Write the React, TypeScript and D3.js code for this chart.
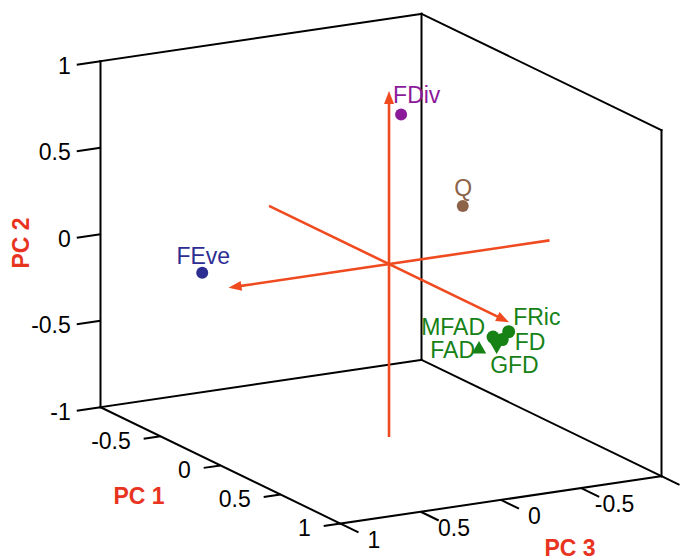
import React from "react";
import * as d3 from "d3";

// PCA loadings of the functional diversity indices
const variables = ["FDiv", "Q", "FEve", "FRic", "FD", "GFD", "MFAD", "FAD"];
const pc1 = [-0.1, 0.2, -0.5, 0.85, 0.85, 0.83, 0.8, 0.75];
const pc2 = [0.83, 0.38, -0.09, -0.1, -0.14, -0.18, -0.14, -0.22];
const pc3 = [-0.2, -0.36, 0.74, -0.16, -0.12, -0.1, -0.1, -0.05];

// Tick values on the three axes
const pc1Ticks = [-0.5, 0, 0.5, 1];
const pc2Ticks = [-1, -0.5, 0, 0.5, 1];
const pc3Ticks = [-1, -0.5, 0, 0.5, 1];

// Reference axes drawn through the biplot centre (PC1, PC2, PC3)
const axisCentre = [0, 0.02, -0.05];

const W = 680;
const H = 560;
const FONT = "'Liberation Sans', Arial, Helvetica, sans-serif";
const AXIS_RED = "#e8341f";
const ARROW = "#f04a20";
const GREEN = "#168216";

type Style = {
  color: string;
  marker: "circle" | "up" | "down";
  anchor: "start" | "middle" | "end";
  dx: number;
  dy: number;
};

const styles: Record<string, Style> = {
  FDiv: { color: "#8b1a9b", marker: "circle", anchor: "start", dx: -8, dy: -19.5 },
  Q: { color: "#8c6348", marker: "circle", anchor: "middle", dx: 0.5, dy: -18 },
  FEve: { color: "#2e2e92", marker: "circle", anchor: "middle", dx: 1, dy: -16.5 },
  FRic: { color: GREEN, marker: "circle", anchor: "start", dx: 4.5, dy: -15 },
  FD: { color: GREEN, marker: "circle", anchor: "start", dx: 12.5, dy: 2 },
  GFD: { color: GREEN, marker: "down", anchor: "start", dx: -6.5, dy: 19.5 },
  MFAD: { color: GREEN, marker: "circle", anchor: "end", dx: -8, dy: -10.5 },
  FAD: { color: GREEN, marker: "up", anchor: "end", dx: -4, dy: 1 },
};

// Orthographic view: each data axis contributes a screen offset
const cx = 381;
const cy = 268.7;
const x1 = d3.scaleLinear().domain([-1, 1]).range([-120, 120]);
const y1 = d3.scaleLinear().domain([-1, 1]).range([-58.2, 58.2]);
const x3 = d3.scaleLinear().domain([-1, 1]).range([160.5, -160.5]);
const y3 = d3.scaleLinear().domain([-1, 1]).range([-23.7, 23.7]);
const y2 = d3.scaleLinear().domain([-1, 1]).range([173, -173]);

function project(a: number, b: number, c: number): [number, number] {
  return [cx + x1(a) + x3(c), cy + y1(a) + y3(c) + y2(b)];
}

function unit(v: [number, number]): [number, number] {
  const l = Math.hypot(v[0], v[1]);
  return [v[0] / l, v[1] / l];
}

// screen directions of increasing PC1 and PC3
const dir1 = unit([x1(1) - x1(0), y1(1) - y1(0)]);
const dir3 = unit([x3(1) - x3(0), y3(1) - y3(0)]);

// Box corners (PC1, PC2, PC3) and the back edges that are drawn
const boxEdges: [number[], number[]][] = [
  [[-1, -1, 1], [-1, 1, 1]],
  [[-1, -1, -1], [-1, 1, -1]],
  [[1, -1, -1], [1, 1, -1]],
  [[-1, 1, 1], [-1, 1, -1]],
  [[-1, 1, -1], [1, 1, -1]],
  [[-1, -1, 1], [-1, -1, -1]],
  [[-1, -1, -1], [1, -1, -1]],
  [[-1, -1, 1], [1, -1, 1]],
  [[1, -1, 1], [1, -1, -1]],
];

function Arrow({ from, to }: { from: [number, number]; to: [number, number] }) {
  const d = unit([to[0] - from[0], to[1] - from[1]]);
  const len = 13;
  const hw = 5;
  const bx = to[0] - d[0] * len;
  const by = to[1] - d[1] * len;
  const pts = [
    [to[0], to[1]],
    [bx - d[1] * hw, by + d[0] * hw],
    [bx + d[1] * hw, by - d[0] * hw],
  ];
  return (
    <g>
      <line x1={from[0]} y1={from[1]} x2={bx + d[0] * 2} y2={by + d[1] * 2} stroke={ARROW} strokeWidth={2.6} />
      <polygon points={pts.map((p) => p.join(",")).join(" ")} fill={ARROW} />
    </g>
  );
}

export default function App() {
  const [o1, o2, o3] = axisCentre;
  const refAxes = [
    { from: project(o1 - 1, o2, o3), to: project(o1 + 1, o2, o3) },
    { from: project(o1, o2 - 1, o3), to: project(o1, o2 + 1, o3) },
    { from: project(o1, o2, o3 - 1), to: project(o1, o2, o3 + 1) },
  ];

  const triUp = d3.symbol().type(d3.symbolTriangle).size(90)();
  const fontSize = 23;

  return (
    <svg
      width={W}
      height={H}
      style={{ position: "absolute", left: 0, top: 0, background: "#fff" }}
      fontFamily={FONT}
    >
      <rect width={W} height={H} fill="#fff" />

      {/* box */}
      {boxEdges.map(([a, b], i) => {
        const p = project(a[0], a[1], a[2]);
        const q = project(b[0], b[1], b[2]);
        return <line key={i} x1={p[0]} y1={p[1]} x2={q[0]} y2={q[1]} stroke="#000" strokeWidth={2} strokeLinecap="square" />;
      })}

      {/* PC2 ticks on the left vertical edge */}
      {pc2Ticks.map((v) => {
        const p = project(-1, v, 1);
        const t = 24;
        const l = 30;
        return (
          <g key={"y" + v}>
            <line x1={p[0]} y1={p[1]} x2={p[0] + dir3[0] * t} y2={p[1] + dir3[1] * t} stroke="#000" strokeWidth={2} />
            <text x={p[0] + dir3[0] * l} y={p[1] + dir3[1] * l} textAnchor="end" dominantBaseline="central" fontSize={fontSize} fill="#000">
              {String(v)}
            </text>
          </g>
        );
      })}

      {/* PC1 ticks along the lower left edge */}
      {pc1Ticks.map((v) => {
        const p = project(v, -1, 1);
        const t = 17;
        const l = 30;
        return (
          <g key={"x" + v}>
            <line x1={p[0]} y1={p[1]} x2={p[0] + dir3[0] * t} y2={p[1] + dir3[1] * t} stroke="#000" strokeWidth={2} />
            <text x={p[0] + dir3[0] * l} y={p[1] + dir3[1] * l} textAnchor="end" dominantBaseline="central" fontSize={fontSize} fill="#000">
              {String(v)}
            </text>
          </g>
        );
      })}

      {/* PC3 ticks along the lower right edge */}
      {pc3Ticks.map((v) => {
        const p = project(1, -1, v);
        const t = 20;
        const l = 37;
        return (
          <g key={"z" + v}>
            <line x1={p[0]} y1={p[1]} x2={p[0] + dir1[0] * t} y2={p[1] + dir1[1] * t} stroke="#000" strokeWidth={2} />
            <text x={p[0] + dir1[0] * l} y={p[1] + dir1[1] * l} textAnchor="middle" dominantBaseline="central" fontSize={fontSize} fill="#000">
              {String(v)}
            </text>
          </g>
        );
      })}

      {/* axis titles */}
      <text x={21} y={243} transform="rotate(-90 21 243)" textAnchor="middle" dominantBaseline="central" fontSize={fontSize} fontWeight="bold" fill={AXIS_RED}>
        PC 2
      </text>
      <text x={139} y={496} textAnchor="middle" dominantBaseline="central" fontSize={fontSize} fontWeight="bold" fill={AXIS_RED}>
        PC 1
      </text>
      <text x={570} y={548} textAnchor="middle" dominantBaseline="central" fontSize={fontSize} fontWeight="bold" fill={AXIS_RED}>
        PC 3
      </text>

      {/* reference axes with arrows at the positive ends */}
      {refAxes.map((a, i) => (
        <Arrow key={i} from={a.from} to={a.to} />
      ))}

      {/* loadings */}
      {variables.map((name, i) => {
        const [px, py] = project(pc1[i], pc2[i], pc3[i]);
        const s = styles[name];
        let mark;
        if (s.marker === "circle") {
          mark = <circle cx={px} cy={py} r={name === "FDiv" || name === "Q" || name === "FEve" ? 6 : 6.5} fill={s.color} />;
        } else {
          mark = (
            <path d={triUp || ""} transform={`translate(${px},${py}) rotate(${s.marker === "down" ? 180 : 0})`} fill={s.color} />
          );
        }
        return <g key={name}>{mark}</g>;
      })}
      {variables.map((name, i) => {
        const [px, py] = project(pc1[i], pc2[i], pc3[i]);
        const s = styles[name];
        return (
          <text key={name + "t"} x={px + s.dx} y={py + s.dy} textAnchor={s.anchor} dominantBaseline="central" fontSize={fontSize} fill={s.color}>
            {name}
          </text>
        );
      })}
    </svg>
  );
}
